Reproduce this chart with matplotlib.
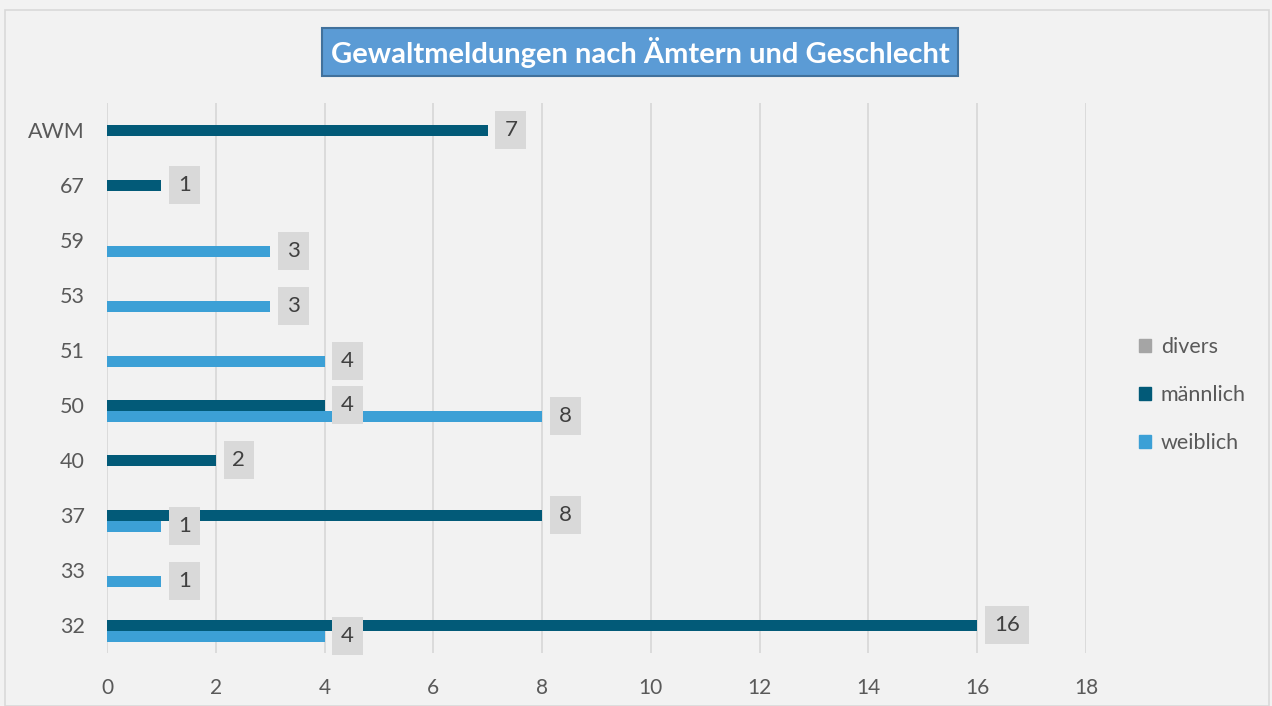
import matplotlib
matplotlib.use("Agg")
import matplotlib.pyplot as plt
from matplotlib.patches import Patch, Rectangle
import numpy as np

plt.rcParams['font.family'] = ['Lato', 'DejaVu Sans']

categories = ["32", "33", "37", "40", "50", "51", "53", "59", "67", "AWM"]
divers = [0, 0, 0, 0, 0, 0, 0, 0, 0, 0]
maennlich = [16, 0, 8, 2, 4, 0, 0, 0, 1, 7]
weiblich = [4, 1, 1, 0, 8, 4, 3, 3, 0, 0]
xticks = [0, 2, 4, 6, 8, 10, 12, 14, 16, 18]

series = [("divers", divers, "#a5a5a5", 0.2),
          ("männlich", maennlich, "#025a78", 0.0),
          ("weiblich", weiblich, "#3ca0d6", -0.2)]

W, H = 1272, 706
fig = plt.figure(figsize=(W / 100, H / 100), dpi=100)
fig.patch.set_facecolor("#f2f2f2")
fig.patches.append(Rectangle((5 / W, 0), 1 - 8 / W, 1 - 10 / H, transform=fig.transFigure,
                             fill=False, edgecolor="#d9d9d9", lw=1.2))

ax = fig.add_axes([107 / W, 1 - 652.5 / H, (1086 - 107) / W, (652.5 - 102.5) / H])
ax.set_facecolor("#f2f2f2")
y = np.arange(len(categories))
bh = 0.2
for name, vals, col, off in series:
    ax.barh(y + off, vals, height=bh, color=col, label=name, zorder=3)
    for yi, v in zip(y, vals):
        if v > 0:
            ax.annotate(str(v), (v, yi + off), xytext=(12, 0), textcoords="offset points",
                        ha="left", va="center", fontsize=16, color="#404040", zorder=5,
                        bbox=dict(boxstyle="square,pad=0.4", fc="#d9d9d9", ec="none"))

ax.set_xlim(0, 18)
ax.set_ylim(-0.5, len(categories) - 0.5)
ax.set_xticks(xticks)
ax.set_yticks(y)
ax.set_yticklabels(categories)
ax.tick_params(axis="x", length=0, pad=18, labelsize=15, labelcolor="#595959")
ax.tick_params(axis="y", length=0, pad=16, labelsize=15.5, labelcolor="#595959")
ax.grid(axis="x", color="#d9d9d9", lw=1.3, zorder=0)
for s in ax.spines.values():
    s.set_visible(False)

handles = [Patch(color=c, label=n) for n, _, c, _ in series]
fig.legend(handles=handles, loc="center left", bbox_to_anchor=(1120 / W, 1 - 395 / H),
           frameon=False, handlelength=0.55, handleheight=0.55, handletextpad=0.45,
           labelspacing=1.3, fontsize=15.5, labelcolor="#595959")

fig.text(640 / W, 1 - 52 / H, "Gewaltmeldungen nach Ämtern und Geschlecht",
         ha="center", va="center", fontsize=21, fontweight="bold", color="white",
         bbox=dict(boxstyle="square,pad=0.3", fc="#5b9bd5", ec="#41719c", lw=1.5))

fig.savefig("out.png", dpi=100, facecolor=fig.get_facecolor())
